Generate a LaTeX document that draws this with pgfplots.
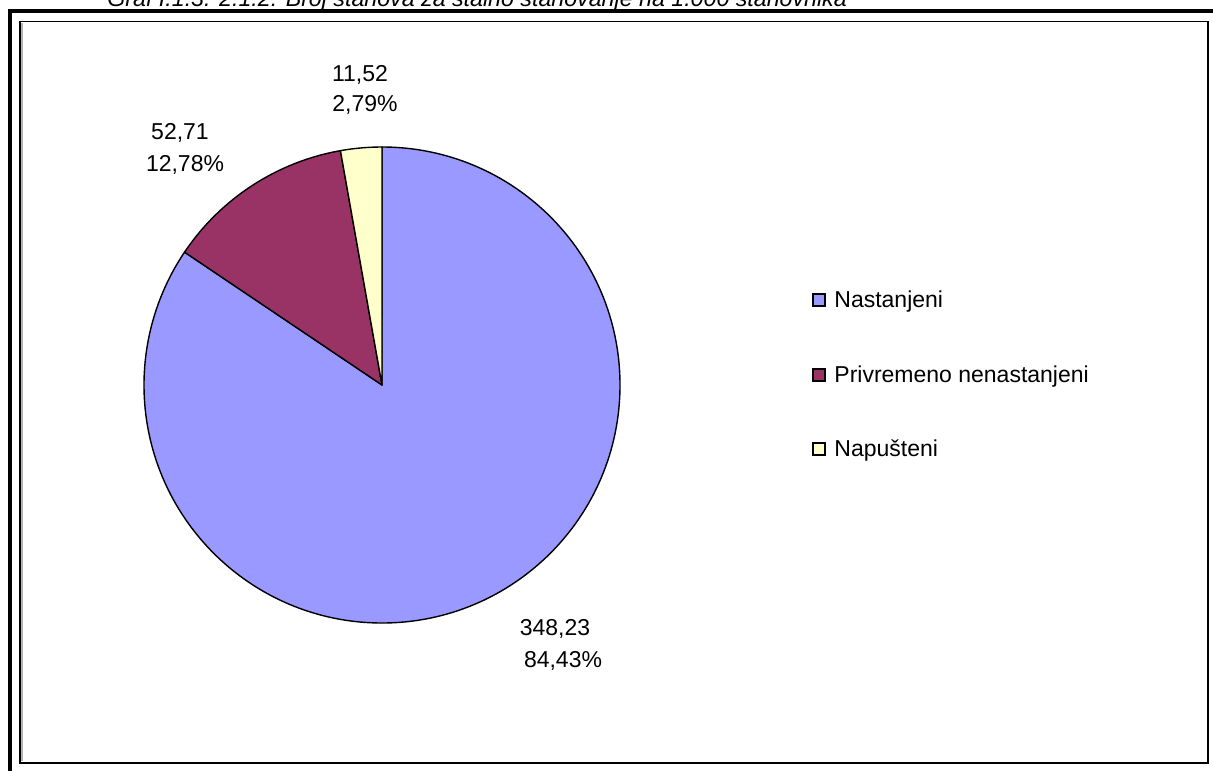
\documentclass[border=0pt]{standalone}
\usepackage{fontspec}
\setmainfont{Liberation Sans}
\usepackage{pgfplots}
\usepackage{pgfplotstable}
\pgfplotsset{compat=1.18}

\definecolor{slblue}{HTML}{9999FF}
\definecolor{slred}{HTML}{993366}
\definecolor{slyel}{HTML}{FFFFCC}

% stanovi na 1.000 stanovnika
\pgfplotstableread{
kind value share
Nastanjeni 348.23 84.43
Privremeno 52.71 12.78
Napusteni 11.52 2.79
}\stantable
\pgfplotstablegetelem{0}{value}\of\stantable \let\va\pgfplotsretval
\pgfplotstablegetelem{1}{value}\of\stantable \let\vb\pgfplotsretval
\pgfplotstablegetelem{2}{value}\of\stantable \let\vc\pgfplotsretval
\pgfmathsetmacro\tot{\va+\vb+\vc}
\pgfmathsetmacro\da{-360*(\va/\tot)}
\pgfmathsetmacro\db{-360*(\vb/\tot)}
\pgfmathsetmacro\dc{-360*(\vc/\tot)}
\pgfmathsetmacro\sb{90+\da}
\pgfmathsetmacro\sc{\sb+\db}

\begin{document}
\begin{tikzpicture}[x=0.5pt,y=-0.5pt,font=\fontsize{11.5}{13.8}\selectfont]
\useasboundingbox (0,0) rectangle (1213,770);
% title, cut off at the top
\node[anchor=base west,inner sep=0pt,font=\fontsize{11.6}{13.9}\selectfont\itshape] at (107,7)
  {Graf I.1.3. 2.1.2: Broj stanova za stalno stanovanje na 1.000 stanovnika};
% frames
\draw[line width=2pt] (9.5,11) rectangle (1230,800);
\draw[gray!60,line width=0.6pt] (22,23.5) -- (22,761) ;
\draw[line width=0.8pt] (20,21.5) rectangle (1208,763);

\begin{axis}[hide axis, anchor=origin, at={(191pt,-192.5pt)},
  x=119pt, y=119pt, xmin=-1, xmax=1, ymin=-1, ymax=1, clip=false]
\filldraw[fill=slblue, draw=black, line width=0.7pt, line join=round]
  (axis cs:0,0) -- ++(90:119pt) arc[start angle=90, delta angle=\da, radius=119pt] -- cycle;
\filldraw[fill=slred, draw=black, line width=0.7pt, line join=round]
  (axis cs:0,0) -- ++(\sb:119pt) arc[start angle=\sb, delta angle=\db, radius=119pt] -- cycle;
\filldraw[fill=slyel, draw=black, line width=0.7pt, line join=round]
  (axis cs:0,0) -- ++(\sc:119pt) arc[start angle=\sc, delta angle=\dc, radius=119pt] -- cycle;
\end{axis}

% data labels
\node[anchor=base,inner sep=0pt] at (360,82) {11,52};
\node[anchor=base,inner sep=0pt] at (365,112) {2,79\%};
\node[anchor=base,inner sep=0pt] at (180,140) {52,71};
\node[anchor=base,inner sep=0pt] at (185,171) {12,78\%};
\node[anchor=base,inner sep=0pt] at (555,635) {348,23};
\node[anchor=base,inner sep=0pt] at (563,667) {84,43\%};

% legend
\foreach \c/\t/\yy in {slblue/Nastanjeni/307, slred/Privremeno nenastanjeni/382, slyel/Napušteni/456}{
  \filldraw[fill=\c, draw=black, line width=0.6pt] (813,\yy-13) rectangle (825,\yy-1);
  \node[anchor=base west,inner sep=0pt] at (834,\yy) {\t};
}
\end{tikzpicture}
\end{document}
